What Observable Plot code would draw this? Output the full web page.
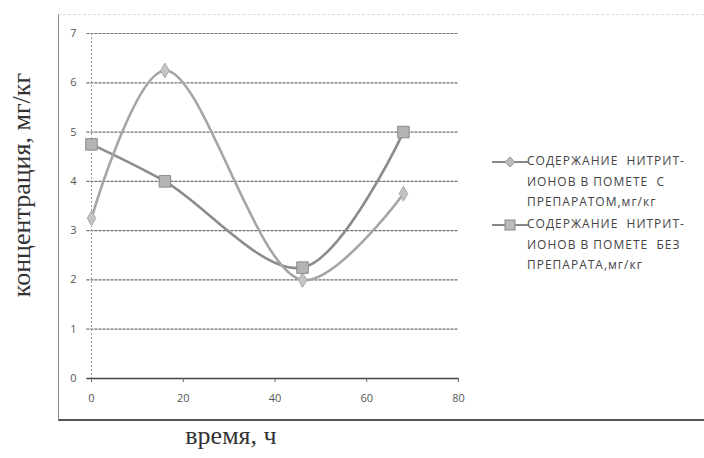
<!DOCTYPE html>
<html><head><meta charset="utf-8">
<script src="https://cdn.jsdelivr.net/npm/d3@7"></script>
<script src="https://cdn.jsdelivr.net/npm/@observablehq/plot@0.6"></script>
<style>
body{margin:0;background:#fff;}
#wrap{position:relative;width:704px;height:458px;overflow:hidden;font-family:"Open Sans",sans-serif;}
#frame{position:absolute;left:58px;top:14px;width:660px;height:404px;border-left:1px solid #888;border-bottom:2px solid #555;border-top:1px dashed #ddd;}
.ylab{position:absolute;left:22px;top:185px;transform:translate(-50%,-50%) rotate(-90deg);font-family:"Liberation Serif",serif;font-size:26px;color:#333;white-space:nowrap;}
.xlab{position:absolute;left:231px;top:436px;transform:translate(-50%,-50%);font-family:"Liberation Serif",serif;font-size:26px;color:#333;white-space:nowrap;}
.leg{position:absolute;left:492px;font-size:12px;line-height:20.5px;color:#444;letter-spacing:1px;white-space:nowrap;}
.leg svg{position:absolute;left:0;top:5px;}
.leg div{margin-left:35px;}
#plot{position:absolute;left:0;top:0;}
</style></head>
<body><div id="wrap"><div id="frame"></div><div id="plot"></div>
<div class="ylab">концентрация, мг/кг</div>
<div class="xlab">время, ч</div>
<div class="leg" style="top:151px"><svg width="36" height="12"><line x1="0" y1="6" x2="36" y2="6" stroke="#888" stroke-width="2"/><path d="M18,1 L23,6 L18,11 L13,6Z" fill="#bbb" stroke="#999"/></svg><div>СОДЕРЖАНИЕ&nbsp; НИТРИТ-<br>ИОНОВ В ПОМЕТЕ&nbsp; С<br>ПРЕПАРАТОМ,мг/кг</div></div>
<div class="leg" style="top:214px"><svg width="36" height="12"><line x1="0" y1="6" x2="36" y2="6" stroke="#888" stroke-width="2"/><rect x="13" y="1" width="10" height="10" fill="#bbb" stroke="#888"/></svg><div>СОДЕРЖАНИЕ&nbsp; НИТРИТ-<br>ИОНОВ В ПОМЕТЕ&nbsp; БЕЗ<br>ПРЕПАРАТА,мг/кг</div></div>
</div>
<script>
const hours = [0, 16, 46, 68];
const withPrep = [3.25, 6.25, 2.0, 3.75];
const withoutPrep = [4.75, 4.0, 2.25, 5.0];
const yTicks = [0,1,2,3,4,5,6,7];
const xTicks = [0,20,40,60,80];

const s1 = hours.map((h,i)=>({x:h,y:withPrep[i]}));
const s2 = hours.map((h,i)=>({x:h,y:withoutPrep[i]}));

const chart = Plot.plot({
  width:704, height:458,
  marginLeft:91, marginRight:246, marginTop:33, marginBottom:80,
  x:{domain:[0,80], ticks:xTicks, label:null},
  y:{domain:[0,7], ticks:yTicks, label:null},
  style:{fontFamily:"'Open Sans',sans-serif", fontSize:"10px", color:"#555", background:"transparent"},
  marks:[
    Plot.ruleY(yTicks.filter(d=>d>0), {x1:-1, x2:80, stroke:"#555", strokeWidth:1.2, strokeDasharray:"3,1", strokeOpacity:0.85}),
    Plot.ruleX([0], {stroke:"#999", strokeDasharray:"2,2"}),
    Plot.ruleY([0], {x1:-1, x2:80, stroke:"#444", strokeWidth:1.3}),
    Plot.axisX({ticks:xTicks, tickSize:4, tickPadding:12, stroke:"#666", fill:"#555", fontSize:11, label:null, tickFormat:"d"}),
    Plot.axisY({ticks:yTicks, tickSize:0, tickPadding:15, fill:"#555", fontSize:11, label:null, tickFormat:"d"}),
    Plot.line(s2, {x:"x", y:"y", curve:"catmull-rom", stroke:"#8c8c8c", strokeWidth:2.6}),
    Plot.line(s1, {x:"x", y:"y", curve:"catmull-rom", stroke:"#a5a5a5", strokeWidth:2.6}),
    Plot.dot(s1, {x:"x", y:"y", symbol:"diamond", r:4.5, fill:"#c4c4c4", stroke:"#aaa", strokeWidth:1}),
    Plot.dot(s2, {x:"x", y:"y", symbol:"square", r:6.5, fill:"#b4b4b4", stroke:"#8a8a8a", strokeWidth:1})
  ]
});
document.getElementById("plot").appendChild(chart);
</script>
</body></html>
